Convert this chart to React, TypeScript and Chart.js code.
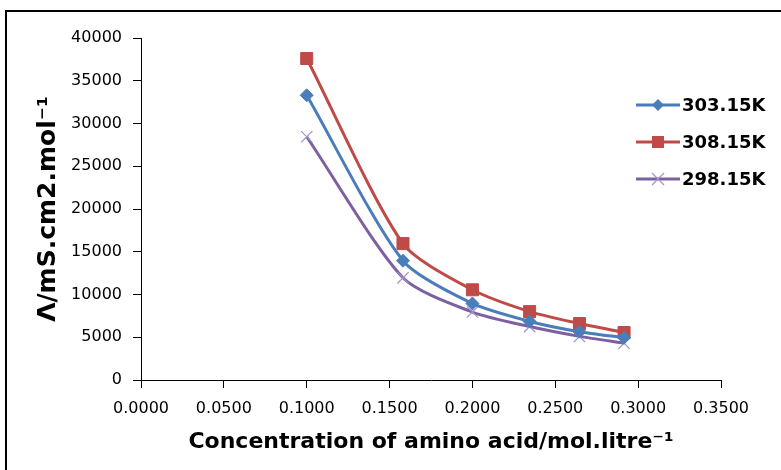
import React, { useEffect, useRef } from "react";
import { Chart, registerables } from "chart.js";

Chart.register(...registerables);

// x: concentration of amino acid (mol/litre)
const concentration = [0.1, 0.1581, 0.2, 0.2345, 0.2646, 0.2915];
// Λ values per temperature
const series303 = [33300, 13950, 8950, 6850, 5650, 4950];
const series308 = [37600, 15950, 10550, 8000, 6600, 5550];
const series298 = [28450, 11950, 7950, 6250, 5100, 4300];
const seriesLabels = ["303.15K", "308.15K", "298.15K"];
const xAxisTitle = "Concentration of amino acid/mol.litre\u207B\u00B9";
const yAxisTitle = "\u039B/mS.cm2.mol\u207B\u00B9";

const BLUE = "#4A7EBB";
const RED = "#BE4B48";
const PURPLE = "#7D60A0";
const PURPLE_MARK = "#A58FCC";

const legendPlugin = {
  id: "customLegend",
  afterDraw(chart: any) {
    const ctx = chart.ctx as CanvasRenderingContext2D;
    const rows = [105, 142, 179];
    const x0 = 636;
    const x1 = 680;
    const mx = 658;
    ctx.save();
    chart.data.datasets.forEach((ds: any, i: number) => {
      const y = rows[i];
      ctx.strokeStyle = ds.borderColor;
      ctx.lineWidth = 3;
      ctx.beginPath();
      ctx.moveTo(x0, y);
      ctx.lineTo(x1, y);
      ctx.stroke();
      if (ds.pointStyle === "rect") {
        ctx.fillStyle = ds.pointBackgroundColor;
        ctx.fillRect(mx - 6, y - 6, 12, 12);
      } else if (ds.pointStyle === "rectRot") {
        ctx.fillStyle = ds.pointBackgroundColor;
        ctx.beginPath();
        ctx.moveTo(mx, y - 6);
        ctx.lineTo(mx + 6, y);
        ctx.lineTo(mx, y + 6);
        ctx.lineTo(mx - 6, y);
        ctx.closePath();
        ctx.fill();
      } else {
        ctx.strokeStyle = ds.pointBorderColor;
        ctx.lineWidth = 1.2;
        ctx.beginPath();
        ctx.moveTo(mx - 6, y - 6);
        ctx.lineTo(mx + 6, y + 6);
        ctx.moveTo(mx + 6, y - 6);
        ctx.lineTo(mx - 6, y + 6);
        ctx.stroke();
      }
      ctx.fillStyle = "#000";
      ctx.font = "bold 18px 'DejaVu Sans'";
      ctx.textBaseline = "middle";
      ctx.textAlign = "left";
      ctx.fillText(ds.label, 682, y + 1);
    });
    ctx.restore();
  },
};

export default function App() {
  const canvasRef = useRef<HTMLCanvasElement | null>(null);

  useEffect(() => {
    if (!canvasRef.current) return;
    const toPoints = (arr: number[]) => arr.map((v, i) => ({ x: concentration[i], y: v }));
    const chart = new Chart(canvasRef.current, {
      type: "line",
      data: {
        datasets: [
          {
            label: seriesLabels[0],
            data: toPoints(series303),
            borderColor: BLUE,
            backgroundColor: BLUE,
            pointBackgroundColor: BLUE,
            pointBorderColor: BLUE,
            pointStyle: "rectRot",
            pointRadius: 6.5,
            pointBorderWidth: 1,
            borderWidth: 3,
            tension: 0.25,
          },
          {
            label: seriesLabels[1],
            data: toPoints(series308),
            borderColor: RED,
            backgroundColor: RED,
            pointBackgroundColor: RED,
            pointBorderColor: RED,
            pointStyle: "rect",
            pointRadius: 8.5,
            pointBorderWidth: 1,
            borderWidth: 3,
            tension: 0.25,
          },
          {
            label: seriesLabels[2],
            data: toPoints(series298),
            borderColor: PURPLE,
            backgroundColor: PURPLE,
            pointBackgroundColor: PURPLE_MARK,
            pointBorderColor: PURPLE_MARK,
            pointStyle: "crossRot",
            pointRadius: 8,
            pointBorderWidth: 1.2,
            borderWidth: 3,
            tension: 0.25,
          },
        ],
      } as any,
      options: {
        responsive: false,
        animation: false,
        events: [],
        layout: { padding: { left: 0, top: 38, right: 60, bottom: 0 } },
        plugins: {
          legend: { display: false },
          tooltip: { enabled: false },
        },
        scales: {
          x: {
            type: "linear",
            min: 0,
            max: 0.35,
            afterFit: (scale: any) => {
              scale.height = 90;
            },
            ticks: {
              stepSize: 0.05,
              color: "#000",
              padding: 11,
              font: { family: "'DejaVu Sans'", size: 16 },
              callback: (v: any) => Number(v).toFixed(4),
              maxRotation: 0,
            },
            grid: {
              drawOnChartArea: false,
              drawTicks: true,
              tickLength: 8,
              color: "#000",
            },
            border: { display: true, color: "#000", width: 1 },
            title: {
              display: true,
              text: xAxisTitle,
              color: "#000",
              font: { family: "'DejaVu Sans'", size: 22, weight: "bold" },
              padding: { top: 0, bottom: 15 },
            },
          },
          y: {
            type: "linear",
            min: 0,
            max: 40000,
            afterFit: (scale: any) => {
              scale.width = 141;
            },
            ticks: {
              stepSize: 5000,
              color: "#000",
              padding: 11,
              font: { family: "'DejaVu Sans'", size: 16 },
              callback: (v: any) => String(Math.round(Number(v))),
            },
            grid: {
              drawOnChartArea: false,
              drawTicks: true,
              tickLength: 8,
              color: "#000",
            },
            border: { display: true, color: "#000", width: 1 },
            title: {
              display: true,
              text: yAxisTitle,
              color: "#000",
              font: { family: "'DejaVu Sans'", size: 25, weight: "bold" },
              padding: { top: 33, bottom: 0 },
            },
          },
        },
      } as any,
      plugins: [legendPlugin],
    });
    return () => chart.destroy();
  }, []);

  return (
    <div
      style={{
        position: "absolute",
        left: 0,
        top: 0,
        width: 781,
        height: 470,
        background: "#fff",
        overflow: "hidden",
      }}
    >
      <div
        style={{
          position: "absolute",
          left: 5,
          top: 10,
          width: 800,
          height: 500,
          borderLeft: "2px solid #000",
          borderTop: "2px solid #000",
        }}
      />
      <canvas
        ref={canvasRef}
        width={781}
        height={470}
        style={{ position: "absolute", left: 0, top: 0, width: 781, height: 470 }}
      />
    </div>
  );
}
